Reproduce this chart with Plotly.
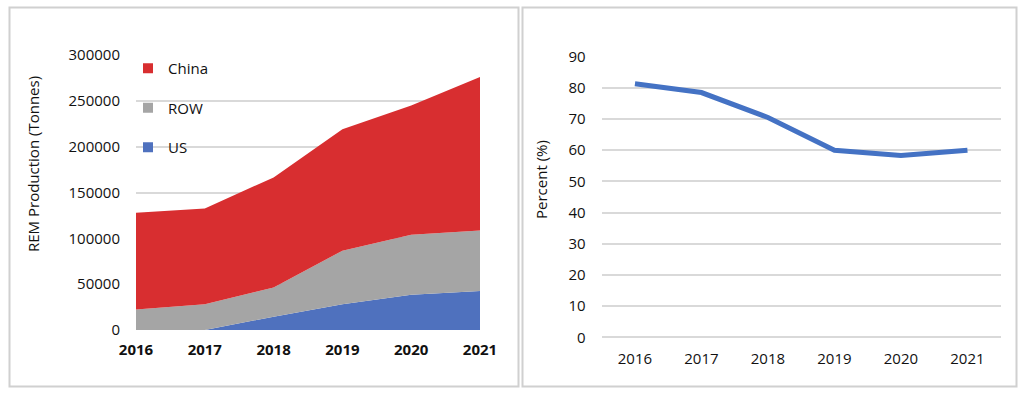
import plotly.graph_objects as go

years = ["2016", "2017", "2018", "2019", "2020", "2021"]
us_prod = [0, 0, 14500, 28000, 38500, 42500]
row_prod = [22500, 28000, 32000, 58500, 65500, 66000]
china_prod = [105500, 104500, 120000, 132500, 141000, 167500]
china_share = [81.3, 78.5, 70.5, 60.0, 58.3, 60.0]

C_US = "#4F71BE"
C_ROW = "#A5A5A5"
C_CHINA = "#D82E30"
C_LINE = "#4472C4"
GRID = "#D9D9D9"
FONT = "Open Sans"
TXT = "#111111"

W, H = 1024, 396
def px_x(v):
    return v / W
def px_y(v):
    return 1 - v / H

fig = go.Figure()

for name, vals, col in [("US", us_prod, C_US), ("ROW", row_prod, C_ROW), ("China", china_prod, C_CHINA)]:
    fig.add_trace(go.Scatter(
        x=years, y=vals, name=name, mode="lines", stackgroup="one",
        line=dict(width=0, color=col), fillcolor=col, showlegend=False,
        xaxis="x", yaxis="y", hoverinfo="skip"))

# legend entries (square markers)
for name, col in [("China", C_CHINA), ("ROW", C_ROW), ("US", C_US)]:
    fig.add_trace(go.Scatter(
        x=[None], y=[None], name=name, mode="markers",
        marker=dict(symbol="square", size=10, color=col),
        legendgroup=name, showlegend=True, xaxis="x", yaxis="y"))

fig.add_trace(go.Scatter(
    x=years, y=china_share, mode="lines", name="China share",
    line=dict(width=5, color=C_LINE), showlegend=False,
    xaxis="x2", yaxis="y2", hoverinfo="skip"))

tickfont = dict(family=FONT, size=15, color=TXT)
tickfont_bold = dict(family=FONT, size=15, color=TXT, weight="bold")

fig.update_layout(
    width=W, height=H, autosize=False,
    margin=dict(l=0, r=0, t=0, b=0),
    paper_bgcolor="white", plot_bgcolor="white",
    font=dict(family=FONT, size=15, color=TXT),
    xaxis=dict(domain=[px_x(136), px_x(480)], type="category", range=[0, 5],
               showgrid=False, zeroline=False, showline=False, tickfont=tickfont_bold,
               ticks="outside", ticklen=6, tickcolor="rgba(0,0,0,0)", automargin=False),
    yaxis=dict(domain=[px_y(330), px_y(55)], range=[0, 300000], dtick=50000,
               tickformat="d", showgrid=True, gridcolor=GRID, gridwidth=1.5,
               zeroline=False, showline=False, tickfont=tickfont, automargin=False,
               ticks="outside", ticklen=12, tickcolor="rgba(0,0,0,0)"),
    xaxis2=dict(domain=[px_x(601.7), px_x(1000.7)], type="category", range=[-0.5, 5.5],
                anchor="y2", showgrid=False, zeroline=False, showline=False, tickfont=tickfont,
                ticks="outside", ticklen=8, tickcolor="rgba(0,0,0,0)", automargin=False),
    yaxis2=dict(domain=[px_y(337.3), px_y(56.7)], range=[0, 90], dtick=10,
                anchor="x2", showgrid=True, gridcolor=GRID, gridwidth=1.5,
                zeroline=True, zerolinecolor=GRID, zerolinewidth=1.5, showline=False,
                tickfont=tickfont, ticks="outside", ticklen=12, tickcolor="rgba(0,0,0,0)",
                automargin=False),
    legend=dict(x=px_x(128), y=px_y(52), xanchor="left", yanchor="top",
                bgcolor="rgba(0,0,0,0)", traceorder="grouped", tracegroupgap=17,
                font=dict(family=FONT, size=15, color=TXT)),
    showlegend=True,
    shapes=[
        dict(type="rect", xref="paper", yref="paper", x0=px_x(9.5), x1=px_x(518.5),
             y0=px_y(386.5), y1=px_y(7.5), line=dict(color="#D0D0D0", width=2)),
        dict(type="rect", xref="paper", yref="paper", x0=px_x(522.5), x1=px_x(1016.5),
             y0=px_y(386.5), y1=px_y(7.5), line=dict(color="#D0D0D0", width=2)),
    ],
    annotations=[
        dict(text="REM Production (Tonnes)", xref="paper", yref="paper",
             x=px_x(33), y=px_y(164), textangle=-90, showarrow=False,
             xanchor="center", yanchor="middle", font=dict(family=FONT, size=15, color=TXT)),
        dict(text="Percent (%)", xref="paper", yref="paper",
             x=px_x(541), y=px_y(180), textangle=-90, showarrow=False,
             xanchor="center", yanchor="middle", font=dict(family=FONT, size=15, color=TXT)),
    ],
)

css_fix = (
    "var d=document.documentElement,b=document.body;"
    "d.style.margin='0';d.style.padding='0';d.style.overflow='hidden';"
    "d.style.width='1024px';d.style.height='396px';"
    "b.style.margin='0';b.style.padding='0';b.style.overflow='hidden';"
    "b.style.width='1024px';b.style.height='396px';"
)
fig.write_html("out.html", config={"displayModeBar": False}, post_script=css_fix)
